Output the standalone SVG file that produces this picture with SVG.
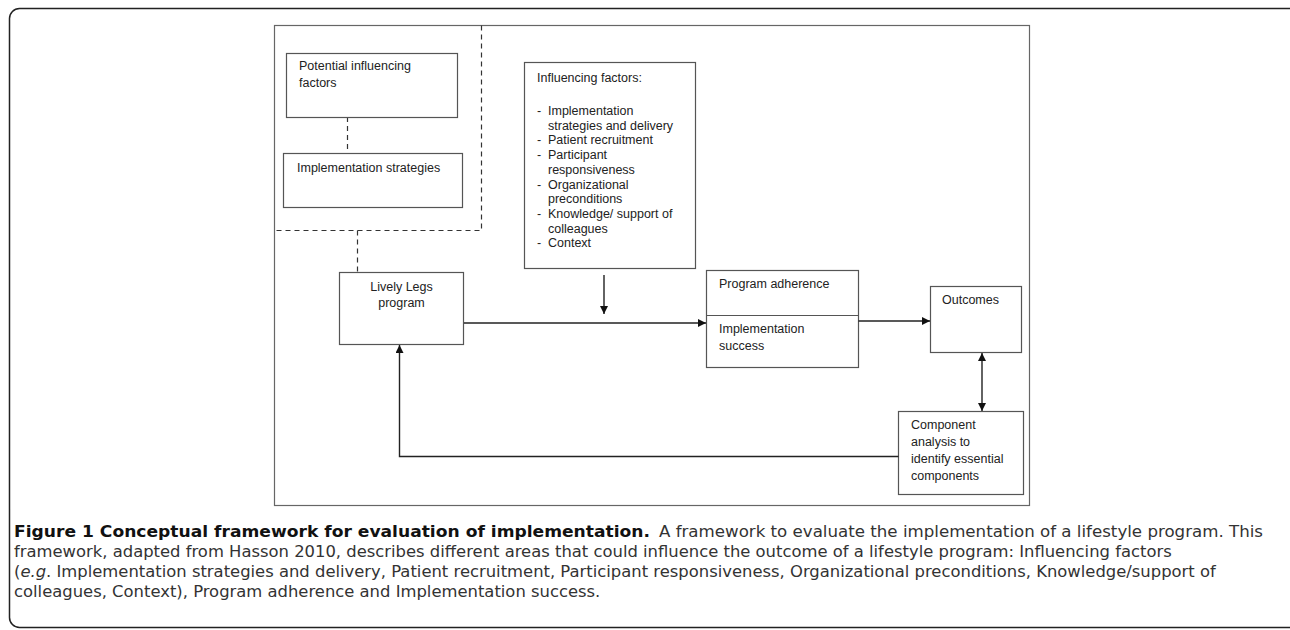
<svg xmlns="http://www.w3.org/2000/svg" width="1290" height="630" viewBox="0 0 1290 630">
<style>
.box{fill:#fff;stroke:#555;stroke-width:1.2}
.frame{fill:none;stroke:#666;stroke-width:1.2}
.dash{fill:none;stroke:#333;stroke-width:1.2;stroke-dasharray:5,4}
.t{font-family:"Liberation Sans",Arial,sans-serif;font-size:12.5px;fill:#222}
.con{fill:none;stroke:#222;stroke-width:1.4}
.cap{font-family:"DejaVu Sans",sans-serif;font-size:16.4px;fill:#333}
.capb{font-family:"DejaVu Sans",sans-serif;font-size:16.4px;font-weight:bold;fill:#111}
</style>
<defs>
<marker id="ah" viewBox="0 0 10 10" refX="10" refY="5" markerWidth="8" markerHeight="8" markerUnits="userSpaceOnUse" orient="auto-start-reverse">
<path d="M0,0 L10,5 L0,10 Z" fill="#111"/>
</marker>
</defs>
<rect x="9.5" y="8.5" width="1295" height="619" rx="10" fill="#fff" stroke="#222" stroke-width="1.5"/>
<rect class="frame" x="274.5" y="25.5" width="755" height="480"/>
<g id="scope">
<path class="dash" d="M481.5,25.5 V230.5 H274.5"/>
<path class="dash" d="M357.5,230.5 V272"/>
<path class="dash" d="M347.5,117 V153"/>
</g>
<g id="potential">
<rect class="box" x="286.5" y="53.5" width="171" height="64"/>
<text class="t" x="299" y="70">Potential influencing</text>
<text class="t" x="299" y="87">factors</text>
</g>
<g id="strategies">
<rect class="box" x="283.5" y="153.5" width="179" height="54"/>
<text class="t" x="297" y="172">Implementation strategies</text>
</g>
<g id="influencing">
<rect class="box" x="524.5" y="62.5" width="171" height="206"/>
<text class="t" x="537" y="82">Influencing factors:</text>
<text class="t" x="537" y="115">-</text><text class="t" x="548" y="115">Implementation</text>
<text class="t" x="548" y="129.7">strategies and delivery</text>
<text class="t" x="537" y="144.4">-</text><text class="t" x="548" y="144.4">Patient recruitment</text>
<text class="t" x="537" y="159.1">-</text><text class="t" x="548" y="159.1">Participant</text>
<text class="t" x="548" y="173.8">responsiveness</text>
<text class="t" x="537" y="188.5">-</text><text class="t" x="548" y="188.5">Organizational</text>
<text class="t" x="548" y="203.2">preconditions</text>
<text class="t" x="537" y="217.9">-</text><text class="t" x="548" y="217.9">Knowledge/ support of</text>
<text class="t" x="548" y="232.6">colleagues</text>
<text class="t" x="537" y="247.3">-</text><text class="t" x="548" y="247.3">Context</text>
</g>
<g id="lively">
<rect class="box" x="339.5" y="272.5" width="124" height="72"/>
<text class="t" x="401.5" y="291" text-anchor="middle">Lively Legs</text>
<text class="t" x="401.5" y="307" text-anchor="middle">program</text>
</g>
<g id="adherence">
<rect class="box" x="706.5" y="270.5" width="152" height="97"/>
<line x1="706.5" y1="315.5" x2="858.5" y2="315.5" stroke="#555" stroke-width="1.2"/>
<text class="t" x="719" y="288">Program adherence</text>
<text class="t" x="719" y="333">Implementation</text>
<text class="t" x="719" y="350">success</text>
</g>
<g id="outcomes">
<rect class="box" x="930.5" y="286.5" width="91" height="66"/>
<text class="t" x="942" y="304">Outcomes</text>
</g>
<g id="component">
<rect class="box" x="898.5" y="411.5" width="125" height="83"/>
<text class="t" x="911" y="429">Component</text>
<text class="t" x="911" y="446">analysis to</text>
<text class="t" x="911" y="463">identify essential</text>
<text class="t" x="911" y="480">components</text>
</g>
<g id="connectors">
<line class="con" x1="464" y1="323" x2="706" y2="323" marker-end="url(#ah)"/>
<line class="con" x1="604" y1="275" x2="604" y2="314" marker-end="url(#ah)"/>
<line class="con" x1="858.5" y1="321" x2="930" y2="321" marker-end="url(#ah)"/>
<line class="con" x1="982" y1="353" x2="982" y2="411" marker-start="url(#ah)" marker-end="url(#ah)"/>
<path class="con" d="M898.5,456.5 H399.5 V345" marker-end="url(#ah)"/>
</g>
<g id="caption">
<text class="capb" x="14" y="537" textLength="636" lengthAdjust="spacingAndGlyphs">Figure 1 Conceptual framework for evaluation of implementation.</text>
<text class="cap" x="659" y="537" textLength="604" lengthAdjust="spacingAndGlyphs">A framework to evaluate the implementation of a lifestyle program. This</text>
<text class="cap" x="14" y="557">framework, adapted from Hasson 2010, describes different areas that could influence the outcome of a lifestyle program: Influencing factors</text>
<text class="cap" x="14" y="577">(<tspan font-style="italic">e.g</tspan>. Implementation strategies and delivery, Patient recruitment, Participant responsiveness, Organizational preconditions, Knowledge/support of</text>
<text class="cap" x="14" y="597">colleagues, Context), Program adherence and Implementation success.</text>
</g>
</svg>
